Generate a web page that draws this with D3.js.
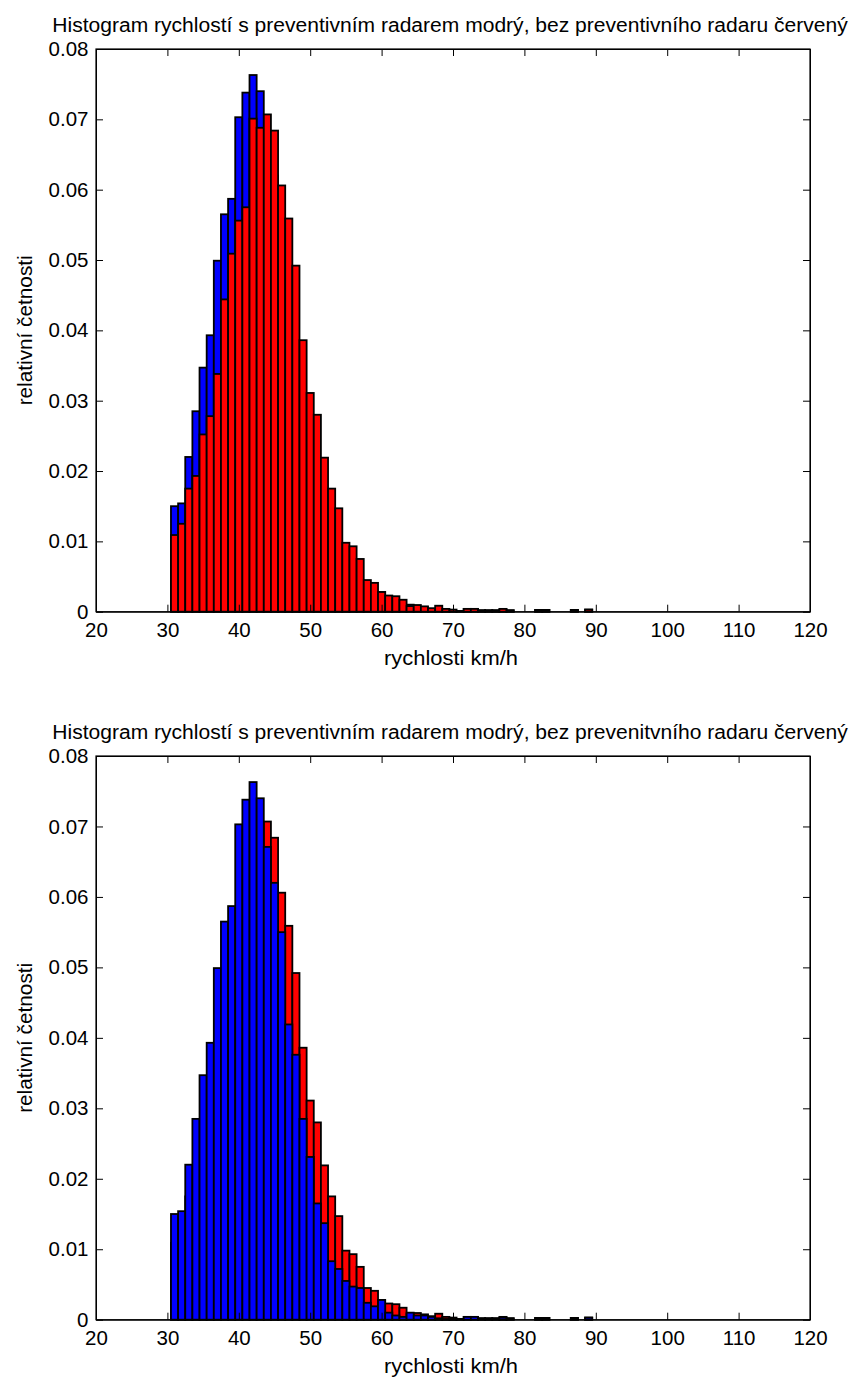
<!DOCTYPE html>
<html>
<head>
<meta charset="utf-8">
<script src="https://cdn.jsdelivr.net/npm/d3@7"></script>
<style>
  html, body { margin: 0; padding: 0; background: #fff; }
  svg { display: block; font-family: "Liberation Sans", Arial, sans-serif; }
</style>
</head>
<body>
<svg id="chart" width="850" height="1377"></svg>
<script>
// ---- data ----
const binCenters = [31,32,33,34,35,36,37,38,39,40,41,42,43,44,45,46,47,48,49,50,
  51,52,53,54,55,56,57,58,59,60,61,62,63,64,65,66,67,68,69,70,
  71,72,73,74,75,76,77,78,79,80,81,82,83,84,85,86,87,88,89];
const binWidth = 1;

// relative frequencies WITH preventive radar (blue)
const withRadar = [0.0150,0.0154,0.0220,0.0285,0.0347,0.0393,0.0499,0.0565,0.0587,0.0703,
  0.0738,0.0763,0.0740,0.0671,0.0620,0.0550,0.0419,0.0376,0.0285,0.0231,
  0.0165,0.0137,0.0083,0.0072,0.0055,0.0047,0.0045,0.0024,0.0019,0.0028,
  0.0010,0.0006,0.0004,0.0010,0.0006,0.0006,0.0004,0.0002,0.0001,0.0001,
  0.0001,0.0004,0.0004,0.0002,0.0002,0.0002,0.0003,0.0002,0,0,
  0,0.00025,0.00025,0,0,0,0.00025,0,0.0003];

// relative frequencies WITHOUT preventive radar (red)
const withoutRadar = [0.0109,0.0125,0.0175,0.0193,0.0252,0.0278,0.0338,0.0444,0.0509,0.0556,
  0.0575,0.0701,0.0688,0.0707,0.0684,0.0606,0.0559,0.0492,0.0386,0.0311,
  0.0280,0.0219,0.0175,0.0147,0.0098,0.0093,0.0075,0.0045,0.0041,0.0028,
  0.0023,0.0022,0.0017,0.0008,0.00095,0.00076,0.0005,0.00085,0.0004,0.0003,
  0.0001,0.0004,0.0004,0.0002,0.0002,0.0002,0.0004,0.0002,0,0,
  0,0.00025,0.00025,0,0,0,0.00025,0,0.0003];

const xTicks = [20,30,40,50,60,70,80,90,100,110,120];
const yTicks = [0,0.01,0.02,0.03,0.04,0.05,0.06,0.07,0.08];
const yTickLabels = ["0","0.01","0.02","0.03","0.04","0.05","0.06","0.07","0.08"];

const titles = [
  "Histogram rychlostí s preventivním radarem modrý, bez preventivního radaru červený",
  "Histogram rychlostí s preventivním radarem modrý, bez prevenitvního radaru červený"
];
const xLabel = "rychlosti km/h";
const yLabel = "relativní četnosti";

// ---- layout ----
const svg = d3.select("#chart");
const plotLeft = 96, plotRight = 810;
const panels = [
  { top: 49, bottom: 611.7, order: ["blue", "red"] },
  { top: 756, bottom: 1319.7, order: ["red", "blue"] }
];
const FONT = 20.5;
const seriesData = { blue: withRadar, red: withoutRadar };
const colors = { blue: "#0000ff", red: "#ff0000" };

panels.forEach((p, pi) => {
  const x = d3.scaleLinear().domain([20, 120]).range([plotLeft, plotRight]);
  const y = d3.scaleLinear().domain([0, 0.08]).range([p.bottom, p.top]);
  const g = svg.append("g");

  // bars
  p.order.forEach(key => {
    const vals = seriesData[key];
    g.append("g").selectAll("rect")
      .data(binCenters.map((c, i) => ({ c, v: vals[i] })))
      .join("rect")
      .attr("x", d => x(d.c - binWidth / 2))
      .attr("width", d => x(d.c + binWidth / 2) - x(d.c - binWidth / 2))
      .attr("y", d => y(d.v))
      .attr("height", d => y(0) - y(d.v))
      .attr("fill", colors[key])
      .attr("stroke", "#000")
      .attr("stroke-width", 1.8);
  });

  // axes
  const ax = g.append("g").attr("transform", `translate(0,${p.bottom})`)
    .call(d3.axisBottom(x).tickValues(xTicks).tickFormat(d3.format("d"))
      .tickSizeInner(-7).tickSizeOuter(0).tickPadding(11));
  const at = g.append("g").attr("transform", `translate(0,${p.top})`)
    .call(d3.axisTop(x).tickValues(xTicks).tickFormat("")
      .tickSizeInner(-7).tickSizeOuter(0));
  const al = g.append("g").attr("transform", `translate(${plotLeft},0)`)
    .call(d3.axisLeft(y).tickValues(yTicks).tickFormat((d, i) => yTickLabels[i])
      .tickSizeInner(-7).tickSizeOuter(0).tickPadding(7.5));
  const ar = g.append("g").attr("transform", `translate(${plotRight},0)`)
    .call(d3.axisRight(y).tickValues(yTicks).tickFormat("")
      .tickSizeInner(-7).tickSizeOuter(0));
  [ax, at, al, ar].forEach(a => {
    a.select(".domain").attr("stroke", "#000");
    a.selectAll(".tick line").attr("stroke", "#000");
    a.selectAll("text").attr("fill", "#000")
      .style("font-family", '"Liberation Sans", Arial, sans-serif')
      .style("font-size", FONT + "px");
  });
  g.append("rect")
    .attr("x", plotLeft).attr("y", p.top)
    .attr("width", plotRight - plotLeft).attr("height", p.bottom - p.top)
    .attr("fill", "none").attr("stroke", "#000").attr("stroke-width", 1.2);

  // title
  const t = g.append("text")
    .attr("x", (plotLeft + plotRight) / 2 - 3)
    .attr("y", p.top - 17)
    .attr("text-anchor", "middle")
    .style("font-size", FONT + "px")
    .text(titles[pi]);
  const tl = t.node().getComputedTextLength();
  t.style("font-size", (FONT * 796 / tl) + "px");

  // x label
  g.append("text")
    .attr("x", (plotLeft + plotRight) / 2 - 2)
    .attr("y", p.bottom + 53.5)
    .attr("text-anchor", "middle")
    .attr("textLength", 134)
    .attr("lengthAdjust", "spacingAndGlyphs")
    .style("font-size", FONT + "px")
    .text(xLabel);

  // y label
  g.append("text")
    .attr("transform", `translate(31.5,${(p.top + p.bottom) / 2}) rotate(-90)`)
    .attr("text-anchor", "middle")
    .attr("textLength", 150)
    .attr("lengthAdjust", "spacingAndGlyphs")
    .style("font-size", FONT + "px")
    .text(yLabel);
});
</script>
</body>
</html>
